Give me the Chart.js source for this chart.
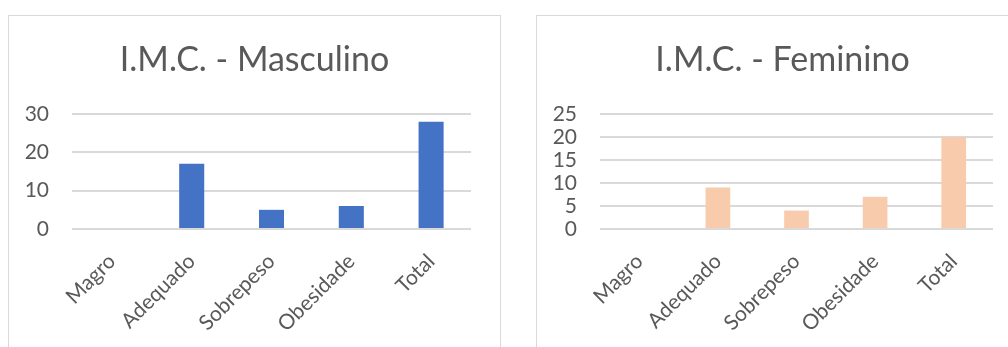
<!DOCTYPE html>
<html>
<head>
<meta charset="utf-8">
<script src="https://cdn.jsdelivr.net/npm/chart.js@4/dist/chart.umd.min.js"></script>
<style>
  html, body { margin: 0; padding: 0; background: #ffffff; overflow: hidden; width: 1008px; height: 347px; }
  .frame { position: absolute; top: 15px; width: 493px; height: 400px; border: 1px solid #D9D9D9; box-sizing: border-box; background: #fff; }
  .frame canvas { position: absolute; left: 0; top: 0; }
  #boxM { left: 8px; }
  #boxF { left: 536px; }
</style>
</head>
<body>
<div class="frame" id="boxM"><canvas id="chartM" width="491" height="331"></canvas></div>
<div class="frame" id="boxF"><canvas id="chartF" width="491" height="331"></canvas></div>
<script>
// Faixas de I.M.C.
const categorias = ['Magro', 'Adequado', 'Sobrepeso', 'Obesidade', 'Total'];
// Contagens por sexo
const masculino = [0, 17, 5, 6, 28];
const feminino = [0, 9, 4, 7, 20];
// Eixo vertical de cada gráfico
const ticksMasculino = { max: 30, step: 10 };
const ticksFeminino = { max: 25, step: 5 };

const FONT = 'Lato, "Liberation Sans", sans-serif';
const TEXT = '#595959';
const GRID = '#D9D9D9';

function grafico(id, titulo, valores, eixo, cor, margemDireita) {
  return new Chart(document.getElementById(id), {
    type: 'bar',
    data: {
      labels: categorias,
      datasets: [{
        data: valores,
        backgroundColor: cor,
        borderWidth: 0,
        barPercentage: 0.314,
        categoryPercentage: 1
      }]
    },
    options: {
      responsive: false,
      animation: false,
      devicePixelRatio: 1,
      layout: { padding: 0 },
      plugins: {
        legend: { display: false },
        tooltip: { enabled: false },
        title: {
          display: true,
          text: titulo,
          color: TEXT,
          font: { family: FONT, size: 34, weight: 'normal', lineHeight: 1.2 },
          padding: { top: 23.6, bottom: 33.6 }
        }
      },
      scales: {
        x: {
          grid: { display: false, drawTicks: false },
          border: { display: false },
          ticks: {
            color: TEXT,
            font: { family: FONT, size: 21 },
            minRotation: 45,
            maxRotation: 45,
            autoSkip: false,
            padding: 20
          },
          afterFit: s => { s.height = 118; }
        },
        y: {
          min: 0,
          max: eixo.max,
          grid: { color: GRID, lineWidth: 2, drawTicks: false },
          border: { display: false },
          ticks: {
            stepSize: eixo.step,
            autoSkip: false,
            color: TEXT,
            font: { family: FONT, size: 21 },
            padding: 23
          },
          afterFit: s => { s.width = 63; }
        },
        // margem vazia à direita da área de plotagem (mantém o título centrado no quadro)
        margem: {
          type: 'linear',
          position: 'right',
          grid: { display: false, drawTicks: false },
          border: { display: false },
          ticks: { display: false },
          afterFit: s => { s.width = margemDireita; }
        }
      }
    }
  });
}

grafico('chartM', 'I.M.C. - Masculino', masculino, ticksMasculino, '#4472C4', 29);
grafico('chartF', 'I.M.C. - Feminino', feminino, ticksFeminino, '#F8CBAD', 35);
</script>
</body>
</html>
